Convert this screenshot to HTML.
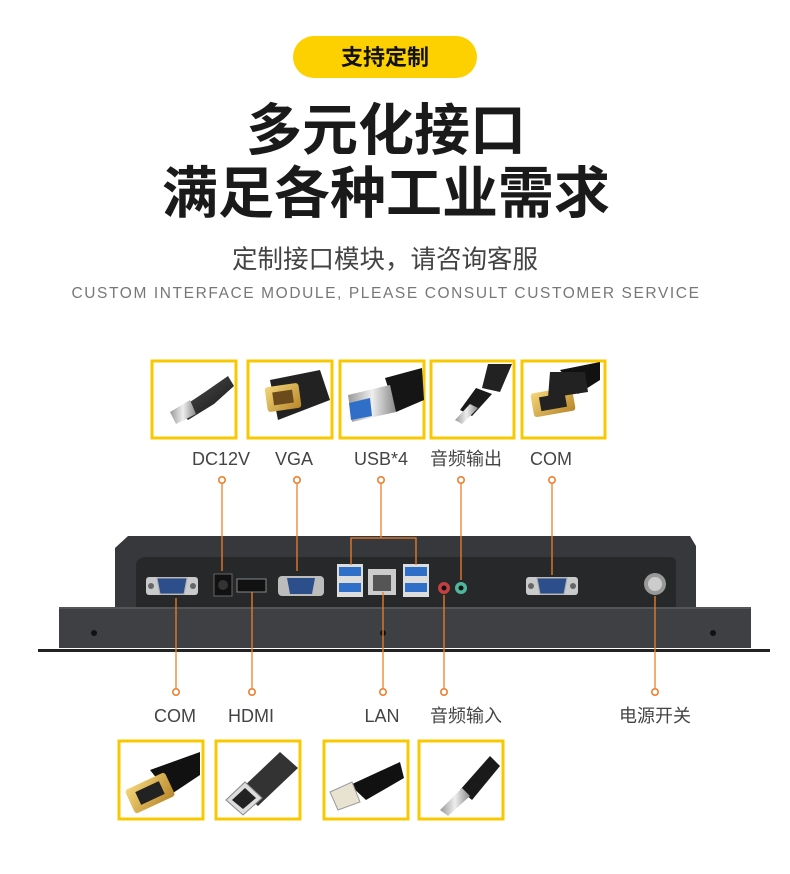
<!DOCTYPE html>
<html><head><meta charset="utf-8"><style>
body{margin:0;background:#fff;}
svg{display:block}
text{font-family:"Liberation Sans","Noto Sans CJK SC",sans-serif;}
</style></head><body>
<svg width="790" height="874" viewBox="0 0 790 874" xmlns="http://www.w3.org/2000/svg">
<defs>
<linearGradient id="cab" x1="0" y1="0" x2="1" y2="1"><stop offset="0" stop-color="#555"/><stop offset="1" stop-color="#111"/></linearGradient>
<linearGradient id="gold" x1="0" y1="0" x2="1" y2="1"><stop offset="0" stop-color="#f4d67a"/><stop offset="1" stop-color="#b8862a"/></linearGradient>
<linearGradient id="met" x1="0" y1="0" x2="1" y2="0"><stop offset="0" stop-color="#999"/><stop offset=".5" stop-color="#eee"/><stop offset="1" stop-color="#888"/></linearGradient>
<g id="dot"><circle r="3.2" fill="#fff" stroke="#ee7f2d" stroke-width="1.6"/></g>
<g id="db9">
<rect x="-26" y="-9" width="52" height="18" rx="3" fill="#c9cacb"/>
<circle cx="-21" cy="0" r="3" fill="#666"/><circle cx="21" cy="0" r="3" fill="#666"/>
<path d="M-15 -8 H15 L12 8 H-12 Z" fill="#2c4f8c" stroke="#aaa" stroke-width="1"/>
</g>
</defs>

<!-- header -->
<rect x="293" y="36" width="184" height="42" rx="21" fill="#fdd000"/>
<text x="385" y="65" font-size="22" text-anchor="middle" fill="#111" font-weight="bold">支持定制</text>
<text x="386" y="150" font-size="56" text-anchor="middle" fill="#1a1a1a" font-weight="bold">多元化接口</text>
<text x="386" y="213" font-size="56" text-anchor="middle" fill="#1a1a1a" font-weight="bold">满足各种工业需求</text>
<text x="385" y="268" font-size="25.5" text-anchor="middle" fill="#444">定制接口模块，请咨询客服</text>
<text x="386" y="298" font-size="15.5" text-anchor="middle" fill="#777" letter-spacing="1.6">CUSTOM INTERFACE MODULE, PLEASE CONSULT CUSTOMER SERVICE</text>

<!-- top boxes -->
<g fill="#fff" stroke="#f8c900" stroke-width="3">
<rect x="152" y="361" width="84" height="77"/>
<rect x="248" y="361" width="84" height="77"/>
<rect x="340" y="361" width="84" height="77"/>
<rect x="431" y="361" width="83" height="77"/>
<rect x="522" y="361" width="83" height="77"/>
</g>
<!-- DC -->
<path d="M178 410 L205 392 L228 376 L234 386 L214 404 L188 420 Z" fill="url(#cab)"/>
<path d="M170 412 L190 400 L196 414 L176 424 Z" fill="url(#met)"/>
<!-- VGA -->
<path d="M270 380 L320 370 L330 400 L278 420 Z" fill="#222"/>
<rect x="266" y="385" width="34" height="25" rx="3" fill="url(#gold)" transform="rotate(-8 283 397)"/>
<rect x="273" y="391" width="20" height="13" fill="#6b4b1c" transform="rotate(-8 283 397)"/>
<!-- USB -->
<path d="M385 378 L422 368 L424 400 L396 412 Z" fill="#151515"/>
<path d="M348 395 L390 385 L396 412 L352 422 Z" fill="url(#met)"/>
<path d="M349 403 L370 398 L372 416 L351 420 Z" fill="#2f6fc7"/>
<!-- audio out -->
<path d="M488 364 L512 364 L500 392 L482 388 Z" fill="#222"/>
<path d="M476 388 L492 394 L472 416 L460 410 Z" fill="#1a1a1a"/>
<path d="M470 404 L478 408 L462 424 L455 420 Z" fill="url(#met)"/>
<!-- COM top -->
<path d="M560 370 L600 362 L600 380 L578 394 Z" fill="#111"/>
<rect x="532" y="390" width="42" height="24" rx="3" fill="url(#gold)" transform="rotate(-10 553 402)"/>
<rect x="540" y="395" width="26" height="14" fill="#222" transform="rotate(-10 553 402)"/>
<path d="M550 372 L585 372 L588 392 L548 398 Z" fill="#222"/>

<g font-size="18" fill="#444" text-anchor="middle">
<text x="221" y="465">DC12V</text>
<text x="294" y="465">VGA</text>
<text x="381" y="465">USB*4</text>
<text x="466" y="465">音频输出</text>
<text x="551" y="465">COM</text>
</g>

<!-- device -->
<path d="M38 649 L770 649 L770 652 L38 652 Z" fill="#222"/>
<path d="M128 536 L690 536 L696 546 L696 608 L115 608 L115 548 Z" fill="#36383b"/>
<path d="M147 557 L670 557 Q676 557 676 563 L676 608 L136 608 L136 566 Q136 557 147 557 Z" fill="#26282a"/>
<rect x="59" y="607" width="692" height="41" fill="#3e4043"/>
<rect x="59" y="607" width="692" height="2" fill="#555"/>
<circle cx="94" cy="633" r="3" fill="#111"/><circle cx="383" cy="633" r="3" fill="#111"/><circle cx="713" cy="633" r="3" fill="#111"/>
<use href="#db9" x="172" y="586"/>
<use href="#db9" x="552" y="586"/>
<rect x="214" y="574" width="18" height="22" fill="#111" stroke="#666"/><circle cx="223" cy="585" r="5" fill="#333"/>
<rect x="237" y="579" width="29" height="13" fill="#111" stroke="#888"/>
<rect x="278" y="576" width="46" height="20" rx="4" fill="#bcbcbc"/>
<path d="M287 578 H315 L312 594 H290 Z" fill="#2c4f8c"/>
<rect x="337" y="564" width="26" height="33" fill="#ddd"/>
<rect x="339" y="567" width="22" height="9" fill="#2f6fc7"/><rect x="339" y="583" width="22" height="9" fill="#2f6fc7"/>
<rect x="403" y="564" width="26" height="33" fill="#ddd"/>
<rect x="405" y="567" width="22" height="9" fill="#2f6fc7"/><rect x="405" y="583" width="22" height="9" fill="#2f6fc7"/>
<rect x="368" y="569" width="28" height="26" fill="#ccc"/><rect x="373" y="575" width="18" height="16" fill="#555"/>
<circle cx="444" cy="588" r="6" fill="#c24040"/><circle cx="444" cy="588" r="2.5" fill="#111"/>
<circle cx="461" cy="588" r="6" fill="#4fb89a"/><circle cx="461" cy="588" r="2.5" fill="#111"/>
<circle cx="655" cy="584" r="11" fill="#999"/><circle cx="655" cy="584" r="7" fill="#ccc"/>

<!-- connectors -->
<g stroke="#ee7f2d" stroke-width="1.3" fill="none">
<path d="M222 484 V571"/><path d="M297 484 V571"/><path d="M461 484 V580"/><path d="M552 484 V575"/>
<path d="M381 484 V538 M351 565 V538 H416 V565"/>
<path d="M176 688 V598"/><path d="M252 688 V592"/><path d="M383 688 V592"/><path d="M444 688 V595"/><path d="M655 688 V596"/>
</g>
<use href="#dot" x="222" y="480"/><use href="#dot" x="297" y="480"/><use href="#dot" x="381" y="480"/><use href="#dot" x="461" y="480"/><use href="#dot" x="552" y="480"/>
<use href="#dot" x="176" y="692"/><use href="#dot" x="252" y="692"/><use href="#dot" x="383" y="692"/><use href="#dot" x="444" y="692"/><use href="#dot" x="655" y="692"/>

<g font-size="18" fill="#444" text-anchor="middle">
<text x="175" y="722">COM</text>
<text x="251" y="722">HDMI</text>
<text x="382" y="722">LAN</text>
<text x="466" y="722">音频输入</text>
<text x="655" y="722">电源开关</text>
</g>

<!-- bottom boxes -->
<g fill="#fff" stroke="#f8c900" stroke-width="3">
<rect x="119" y="741" width="84" height="78"/>
<rect x="216" y="741" width="84" height="78"/>
<rect x="324" y="741" width="84" height="78"/>
<rect x="419" y="741" width="84" height="78"/>
</g>
<path d="M150 770 L200 752 L200 775 L170 795 Z" fill="#111"/>
<rect x="128" y="780" width="44" height="26" rx="3" fill="url(#gold)" transform="rotate(-25 150 793)"/>
<rect x="137" y="786" width="26" height="14" fill="#222" transform="rotate(-25 150 793)"/>
<path d="M240 790 L280 752 L298 768 L258 806 Z" fill="#333"/>
<path d="M226 800 L245 782 L262 798 L243 815 Z" fill="#ddd" stroke="#888"/>
<path d="M232 800 L245 788 L256 798 L243 809 Z" fill="#222"/>
<path d="M350 785 L400 762 L404 778 L366 800 Z" fill="#111"/>
<path d="M330 792 L352 782 L360 802 L338 810 Z" fill="#e8e3d0" stroke="#999"/>
<path d="M460 790 L490 756 L500 766 L472 800 Z" fill="#1a1a1a"/>
<path d="M440 810 L462 788 L470 796 L448 816 Z" fill="url(#met)"/>
</svg>
</body></html>
